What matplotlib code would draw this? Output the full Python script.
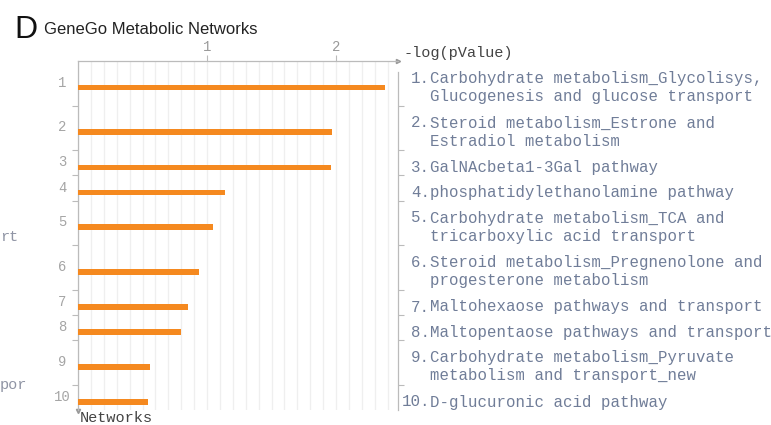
import numpy as np
import matplotlib
matplotlib.use("Agg")
from matplotlib import pyplot as plt

# Dados (GeneGo Metabolic Networks, -log(pValue))
ranks = [1, 2, 3, 4, 5, 6, 7, 8, 9, 10]
valores = [2.38, 1.97, 1.96, 1.14, 1.05, 0.94, 0.855, 0.80, 0.56, 0.545]
rotulos = [
    ["Carbohydrate metabolism_Glycolisys,", "Glucogenesis and glucose transport"],
    ["Steroid metabolism_Estrone and", "Estradiol metabolism"],
    ["GalNAcbeta1-3Gal pathway"],
    ["phosphatidylethanolamine pathway"],
    ["Carbohydrate metabolism_TCA and", "tricarboxylic acid transport"],
    ["Steroid metabolism_Pregnenolone and", "progesterone metabolism"],
    ["Maltohexaose pathways and transport"],
    ["Maltopentaose pathways and transport"],
    ["Carbohydrate metabolism_Pyruvate", "metabolism and transport_new"],
    ["D-glucuronic acid pathway"],
]
xticks_top = [1, 2]

W, H = 771, 425
fig = plt.figure(figsize=(W / 100, H / 100), dpi=100)

# eixo principal: 1 unidade y = 1 pixel
x0, x1, y0, y1 = 78, 398, 61, 410
ax = fig.add_axes([x0 / W, 1 - y1 / H, (x1 - x0) / W, (y1 - y0) / H])

# altura de cada linha depende do numero de linhas do rotulo
nlin = np.array([len(r) for r in rotulos])
alturas = np.where(nlin > 1, 44.6, 25.2)
bordas = np.concatenate([[0], np.cumsum(alturas)])
pos_barra = bordas[1:] - 8 - 10 * (nlin - 1)

laranja = "#f5891f"
ax.barh(pos_barra, valores, height=5.5, color=laranja, zorder=3)

ax.set_xlim(0, 2.48)
ax.set_ylim(y1 - y0, 0)

# grade vertical fina
ax.set_xticks(np.arange(0, 2.45, 0.1), minor=True)
ax.set_xticks(xticks_top)
ax.grid(which="both", axis="x", color="#efefef", lw=0.9, zorder=0)
ax.xaxis.tick_top()
ax.tick_params(axis="x", which="minor", length=0)
ax.tick_params(axis="x", which="major", length=4, width=0.8, color="#bbbbbb",
               labelcolor="#9a9a9a", labelsize=10, pad=1)
for t in ax.get_xticklabels():
    t.set_fontfamily("Liberation Mono")

# marcas nas bordas das linhas
ax.set_yticks(bordas[1:-1])
ax.set_yticklabels([])
ax.tick_params(axis="y", left=True, right=True, length=4, width=0.8, color="#bbbbbb")

for s in ["top", "left", "right"]:
    ax.spines[s].set_color("#bbbbbb")
    ax.spines[s].set_linewidth(0.9)
ax.spines["bottom"].set_visible(False)
ax.spines["right"].set_bounds(bordas[-1], 11)

# setas dos eixos
ax.plot([1], [1], marker=">", ms=3, color="#999999", transform=ax.transAxes, clip_on=False)
ax.plot([0], [-0.004], marker="v", ms=3, color="#999999", transform=ax.transAxes, clip_on=False)

tr = ax.get_yaxis_transform()
mono = "Liberation Mono"
azul = "#707d98"

# numeros a esquerda
for r, yb in zip(ranks, pos_barra):
    ax.text(-0.05, yb - 5, str(r), transform=tr, ha="center", va="center",
            fontsize=10, family=mono, color="#a5a5a5")

# rotulos a direita
xt = (430 - x0) / (x1 - x0)
for r, yb, lin in zip(ranks, pos_barra, rotulos):
    n = len(lin)
    ax.text(xt, yb - 9.5 * (n - 1), f"{r}.", transform=tr, ha="right", va="center",
            fontsize=11.3, family=mono, color=azul)
    ax.text(xt, yb, "\n".join(lin), transform=tr, ha="left", va="center",
            fontsize=11.3, family=mono, color=azul, linespacing=1.22)

ax.text((403 - x0) / (x1 - x0), 1 + 8 / (y1 - y0), "-log(pValue)", transform=ax.transAxes,
        ha="left", va="center", fontsize=11, family=mono, color="#444444")
ax.text(0.006, -8 / (y1 - y0), "Networks", transform=ax.transAxes,
        ha="left", va="center", fontsize=11, family=mono, color="#444444")

# titulo
fig.text(14 / W, 1 - 38 / H, "D", fontsize=23, family="Liberation Sans", color="#111111",
         va="baseline")
fig.text(44 / W, 1 - 34 / H, "GeneGo Metabolic Networks", fontsize=12,
         family="Liberation Sans", color="#222222", va="baseline")

# restos do painel vizinho
fig.text(0, 1 - 237 / H, "rt", fontsize=11, family=mono, color="#9095a5", va="center")
fig.text(0, 1 - 385 / H, "por", fontsize=11, family=mono, color="#9095a5", va="center")

fig.savefig("out.png", dpi=100)
